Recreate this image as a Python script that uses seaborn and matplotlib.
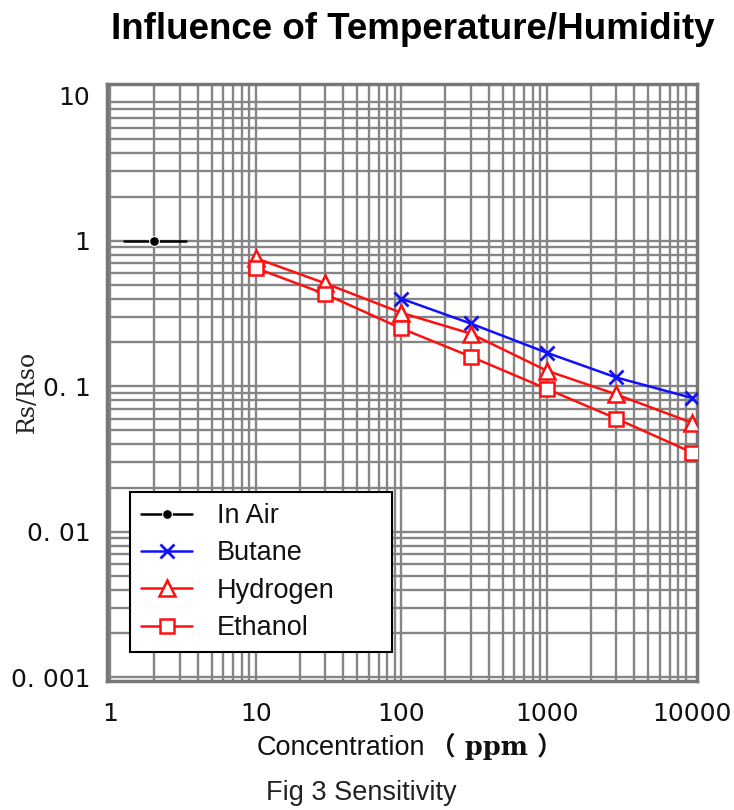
import matplotlib
matplotlib.use("Agg")
import matplotlib.pyplot as plt
from matplotlib.ticker import FixedLocator, NullFormatter
import seaborn as sns
import pandas as pd

# ---- data ----
air_x = [1.25, 2.0, 3.3]
air_y = [1.0, 1.0, 1.0]

butane_x = [100, 300, 1000, 3000, 10000]
butane_y = [0.40, 0.27, 0.17, 0.115, 0.083]

hydrogen_x = [10, 30, 100, 300, 1000, 3000, 10000]
hydrogen_y = [0.76, 0.51, 0.32, 0.23, 0.128, 0.088, 0.056]

ethanol_x = [10, 30, 100, 300, 1000, 3000, 10000]
ethanol_y = [0.65, 0.43, 0.25, 0.16, 0.096, 0.060, 0.035]

x_ticks = [1, 10, 100, 1000, 10000]
x_tick_labels = ["1", "10", "100", "1000", "10000"]
y_ticks = [10, 1, 0.1, 0.01, 0.001]
y_tick_labels = ["10", "1", "0. 1", "0. 01", "0. 001"]

sns.set_style("white")
plt.rcParams['font.family'] = ['Liberation Sans', 'DejaVu Sans']
plt.rcParams['text.color'] = 'black'

fig = plt.figure(figsize=(7.34, 8.10), dpi=100)
ax = fig.add_axes([0.146, 0.159, 0.804, 0.737])
ax.set_xscale("log")
ax.set_yscale("log")
ax.set_xlim(0.953, 10825)
ax.set_ylim(0.00094, 11.9)

# grid
grid_c = "#858585"
for d in [1, 10, 100, 1000]:
    for m in range(1, 10):
        ax.axvline(d * m, color=grid_c, lw=1.7, zorder=0)
for d in [0.001, 0.01, 0.1, 1]:
    for m in range(1, 10):
        ax.axhline(d * m, color=grid_c, lw=1.7, zorder=0)

df_air = pd.DataFrame({"x": air_x, "y": air_y})
df_but = pd.DataFrame({"x": butane_x, "y": butane_y})
df_hyd = pd.DataFrame({"x": hydrogen_x, "y": hydrogen_y})
df_eth = pd.DataFrame({"x": ethanol_x, "y": ethanol_y})

sns.lineplot(data=df_air, x="x", y="y", ax=ax, color="black", lw=1.8, zorder=3,
             marker="o", markersize=7, markevery=[1], label="In Air")
sns.lineplot(data=df_but, x="x", y="y", ax=ax, color="#1010ff", lw=1.8, marker="x",
             markersize=10, markeredgewidth=2, markeredgecolor="#1010ff", zorder=3,
             label="Butane")
sns.lineplot(data=df_hyd, x="x", y="y", ax=ax, color="#ff1010", lw=1.8, marker="^",
             markersize=11, markerfacecolor="white", markeredgecolor="#ff1010",
             markeredgewidth=1.8, zorder=3, label="Hydrogen")
sns.lineplot(data=df_eth, x="x", y="y", ax=ax, color="#ff1010", lw=1.8, marker="s",
             markersize=10, markerfacecolor="white", markeredgecolor="#ff1010",
             markeredgewidth=1.8, zorder=3, label="Ethanol")

ax.xaxis.set_major_locator(FixedLocator(x_ticks))
ax.xaxis.set_minor_formatter(NullFormatter())
ax.set_xticks(x_ticks)
ax.set_xticklabels(x_tick_labels, fontsize=18, family="DejaVu Sans", color="#111111")
ax.yaxis.set_minor_formatter(NullFormatter())
ax.set_yticks(y_ticks)
ax.set_yticklabels(y_tick_labels, fontsize=18, family="DejaVu Sans", color="#111111")
ax.tick_params(axis="x", which="both", length=0, pad=15)
ax.tick_params(axis="y", which="both", length=0, pad=12)

for s in ax.spines.values():
    s.set_color("#777777")
    s.set_linewidth(2.5)

ax.set_xlabel("")
ax.set_ylabel("")
fig.text(27 / 734, 1 - 392 / 810, "Rs/Rso", rotation=90, ha="center", va="center",
         fontsize=17, family="DejaVu Serif", color="#222222")

leg = ax.legend(loc="lower left", bbox_to_anchor=(0.039, 0.049, 0.444, 0.266),
                mode="expand", borderaxespad=0, fancybox=False, framealpha=1,
                edgecolor="black", fontsize=19.5, handlelength=1.9,
                labelspacing=0.42, borderpad=0.4, handletextpad=0.9)
leg.get_frame().set_linewidth(1.5)
leg.set_zorder(10)
for t in leg.get_texts():
    t.set_color("#111111")

fig.text(0.562, 0.963, "Influence of Temperature/Humidity", ha="center", va="center",
         fontsize=26.5, fontweight="bold", color="black")
fig.text(425 / 734, 0.076, "Concentration", ha="right", va="center", fontsize=19.5,
         color="#111111")
fig.text(430 / 734, 0.078, "（ ppm ）", ha="left", va="center", fontsize=18.5,
         fontweight="bold", family=["DejaVu Serif", "Noto Sans CJK SC"], color="#111111")
fig.text(0.492, 0.021, "Fig 3 Sensitivity", ha="center", va="center", fontsize=19.5,
         color="#222222")

fig.savefig("out.png", dpi=100)
